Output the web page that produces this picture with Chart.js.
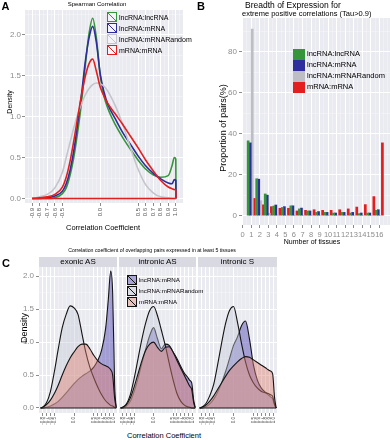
<!DOCTYPE html>
<html>
<head>
<meta charset="utf-8">
<script src="https://cdn.jsdelivr.net/npm/chart.js@4.4.0/dist/chart.umd.min.js"></script>
<style>
  body { margin: 0; background: #fff; font-family: "Liberation Sans", Arial, sans-serif; }
  #page { position: relative; width: 390px; height: 440px; overflow: hidden; background: #fff; }
  canvas { position: absolute; }
  .t { position: absolute; white-space: nowrap; color: #000; line-height: 1; }
  .key { position: absolute; box-sizing: border-box; }
  .strip { position: absolute; background: #D9D9E1; }
</style>
</head>
<body>
<div id="page">
  <canvas id="chartA" width="195" height="245" style="left:0;top:0"></canvas>
  <canvas id="chartB" width="195" height="245" style="left:195px;top:0"></canvas>
  <div class="strip" style="left:39px;top:257px;width:78px;height:10px"></div>
  <div class="strip" style="left:119px;top:257px;width:77px;height:10px"></div>
  <div class="strip" style="left:198px;top:257px;width:79px;height:10px"></div>
  <canvas id="chartC1" width="117" height="163" style="left:0;top:267px"></canvas>
  <canvas id="chartC2" width="77" height="163" style="left:119px;top:267px"></canvas>
  <canvas id="chartC3" width="79" height="163" style="left:198px;top:267px"></canvas>
</div>
<script>
// ---- A: spearman correlation densities ----
const corrX = [-0.9, -0.8, -0.7, -0.6, -0.5, -0.45, -0.4, -0.35, -0.3, -0.25, -0.2, -0.15, -0.1, -0.05,
  0, 0.05, 0.1, 0.2, 0.3, 0.4, 0.5, 0.6, 0.7, 0.8, 0.9, 0.95, 0.98, 1.0];
const densLncLnc = [0, 0, 0, 0.01, 0.06, 0.13, 0.28, 0.5, 0.8, 1.15, 1.6, 2.0, 2.2, 1.95,
  1.5, 1.25, 1.1, 0.9, 0.74, 0.6, 0.47, 0.36, 0.29, 0.26, 0.28, 0.4, 0.5, 0.48];
const densLncMrna = [0, 0, 0.01, 0.03, 0.09, 0.18, 0.34, 0.58, 0.9, 1.25, 1.65, 1.95, 2.1, 1.9,
  1.52, 1.3, 1.15, 0.97, 0.8, 0.66, 0.52, 0.4, 0.31, 0.24, 0.19, 0.18, 0.23, 0.22];
const densLncRandom = [0, 0.02, 0.05, 0.13, 0.32, 0.5, 0.68, 0.86, 1.02, 1.15, 1.26, 1.34, 1.39, 1.41,
  1.4, 1.37, 1.31, 1.13, 0.9, 0.62, 0.36, 0.17, 0.07, 0.02, 0.01, 0, 0, 0];
const densMrnaMrna = [0, 0.01, 0.02, 0.05, 0.14, 0.26, 0.45, 0.7, 0.98, 1.25, 1.48, 1.64, 1.7, 1.55,
  1.36, 1.25, 1.16, 1.03, 0.9, 0.76, 0.62, 0.47, 0.34, 0.22, 0.14, 0.12, 0.11, 0.1];
const corrTickLabels = [-0.9, -0.8, -0.7, -0.6, -0.5, 0, 0.5, 0.6, 0.7, 0.8, 0.9, 1.0];
const densTickLabels = [0, 0.5, 1.0, 1.5, 2.0];

// ---- B: breadth of expression ----
const tissues = [1, 2, 3, 4, 5, 6, 7, 8, 9, 10, 11, 12, 13, 14, 15, 16];
const pctLncLnc = [36.5, 18, 10.6, 4.7, 4.0, 4.8, 3.3, 2.3, 1.6, 1.6, 1.3, 1.6, 1.3, 1.0, 1.3, 2.6];
const pctLncMrna = [35.5, 17.8, 10.0, 5.2, 4.4, 4.8, 3.7, 2.3, 2.0, 1.6, 1.3, 1.6, 1.6, 1.3, 1.3, 2.9];
const pctLncRandom = [91, 7.3, 1.2, 0.4, 0.2, 0.1, 0.1, 0, 0, 0, 0, 0, 0, 0, 0, 0];
const pctMrnaMrna = [8.4, 5.3, 4.4, 3.6, 3.6, 2.3, 2.6, 2.9, 2.6, 2.6, 2.9, 3.3, 4.2, 5.4, 9.3, 35.5];
const tissueTickLabels = [0, 1, 2, 3, 4, 5, 6, 7, 8, 9, 10, 11, 12, 13, 14, 15, 16];
const pctTickLabels = [0, 20, 40, 60, 80];

// ---- C: overlapping pairs, three facets ----
const facetX = [-0.85, -0.8, -0.7, -0.6, -0.5, -0.4, -0.3, -0.2, -0.1, 0, 0.1, 0.2, 0.3, 0.4,
  0.5, 0.6, 0.7, 0.8, 0.87, 0.93, 0.98, 1.03, 1.07];
const exonicMrna = [0, 0, 0.01, 0.03, 0.06, 0.1, 0.16, 0.23, 0.3, 0.37, 0.43, 0.48, 0.52, 0.56,
  0.62, 0.72, 0.88, 1.2, 1.65, 2.08, 1.75, 0.35, 0];
const exonicRandom = [0, 0.01, 0.08, 0.25, 0.55, 0.9, 1.22, 1.42, 1.55, 1.52, 1.42, 1.13, 0.84, 0.62,
  0.46, 0.32, 0.2, 0.11, 0.07, 0.04, 0.03, 0.01, 0];
const exonicMm = [0, 0.01, 0.05, 0.12, 0.22, 0.35, 0.5, 0.64, 0.76, 0.85, 0.93, 0.97, 0.97, 0.9,
  0.8, 0.72, 0.67, 0.64, 0.62, 0.58, 0.5, 0.15, 0.01];
const intronAsMrna = [0, 0, 0.03, 0.1, 0.25, 0.45, 0.68, 0.9, 1.1, 1.22, 1.05, 0.9, 0.97, 0.95,
  0.85, 0.75, 0.63, 0.52, 0.47, 0.42, 0.38, 0.12, 0.01];
const intronAsRandom = [0, 0.01, 0.06, 0.2, 0.45, 0.75, 1.05, 1.3, 1.48, 1.54, 1.4, 1.18, 0.95, 0.68,
  0.43, 0.22, 0.1, 0.04, 0.02, 0.01, 0, 0, 0];
const intronAsMm = [0, 0.01, 0.05, 0.15, 0.32, 0.52, 0.72, 0.88, 0.97, 1.0, 0.92, 0.86, 0.92, 0.93,
  0.85, 0.72, 0.6, 0.48, 0.4, 0.33, 0.28, 0.08, 0];
const intronSMrna = [0, 0, 0.02, 0.06, 0.13, 0.24, 0.38, 0.55, 0.75, 0.95, 1.08, 1.25, 1.32, 1.05,
  0.65, 0.42, 0.3, 0.24, 0.2, 0.17, 0.14, 0.04, 0];
const intronSRandom = [0, 0.01, 0.06, 0.18, 0.35, 0.65, 0.98, 1.28, 1.48, 1.54, 1.3, 0.98, 0.7, 0.5,
  0.38, 0.3, 0.25, 0.23, 0.22, 0.2, 0.18, 0.05, 0];
const intronSMm = [0, 0.01, 0.04, 0.1, 0.18, 0.28, 0.38, 0.48, 0.57, 0.64, 0.7, 0.75, 0.78, 0.77,
  0.73, 0.69, 0.65, 0.61, 0.58, 0.56, 0.52, 0.15, 0];
const facetTickLabels = [-0.8, -0.7, -0.6, -0.5, 0, 0.5, 0.6, 0.7, 0.8, 0.9, 1.0];

const FONT = '"Liberation Sans", Arial, sans-serif';
const panelBg = '#EAEAF1';
const colGreen = '#35953A', colBlue = '#2D2D9E', colGrey = '#C4C4CC', colRed = '#E31E1E';

Chart.register({
  id: 'panelBg',
  beforeDraw(chart) {
    const { ctx, chartArea: a } = chart;
    ctx.save();
    ctx.fillStyle = panelBg;
    ctx.fillRect(a.left, a.top, a.right - a.left, a.bottom - a.top);
    ctx.restore();
  }
});

function stepTicks(min, max, step) {
  const out = [];
  for (let v = Math.ceil(min / step - 1e-9) * step; v <= max + 1e-9; v += step) {
    out.push({ value: +v.toFixed(4) });
  }
  return out;
}
function isIn(v, list) {
  return list.some(t => Math.abs(t - v) < 1e-6);
}
function pts(xs, ys) {
  return xs.map((x, i) => ({ x: x, y: ys[i] }));
}

// one axis config; labelled ticks get the major grid line and a tick mark
function axis(o) {
  const horizontal = o.horizontal;
  return {
    type: 'linear',
    min: o.min,
    max: o.max,
    offset: false,
    afterBuildTicks: s => { s.ticks = stepTicks(o.min, o.max, o.step); },
    afterFit: s => {
      if (horizontal) { s.height = o.size; s.paddingLeft = 0; s.paddingRight = 0; }
      else { s.width = o.size; s.paddingTop = 0; s.paddingBottom = 0; }
    },
    grid: {
      offset: false,
      color: c => isIn(c.tick.value, o.labels) ? '#FFFFFF' : 'rgba(255,255,255,0.65)',
      lineWidth: c => isIn(c.tick.value, o.labels) ? 1 : 0.5,
      drawTicks: o.showTicks !== false,
      tickLength: 3,
      tickColor: c => isIn(c.tick.value, o.labels) ? '#8C8C8C' : 'rgba(0,0,0,0)'
    },
    border: { display: false },
    ticks: {
      display: o.showTicks !== false,
      autoSkip: false,
      minRotation: o.rotate || 0,
      maxRotation: o.rotate || 0,
      padding: o.pad || 1,
      color: o.color || '#8C8C8C',
      font: { family: FONT, size: o.font },
      callback: v => isIn(v, o.labels) ? o.fmt(v) : ''
    }
  };
}

const common = {
  responsive: false,
  animation: false,
  events: [],
  plugins: { legend: { display: false }, tooltip: { enabled: false } }
};

// ---------- chart A ----------
function densityLine(ys, color, order) {
  const data = pts(corrX, ys);
  data.push({ x: corrX[corrX.length - 1] + 0.002, y: 0 });
  return {
    data: data, borderColor: color, borderWidth: 1.6, pointRadius: 0,
    cubicInterpolationMode: 'monotone', fill: false, order: order
  };
}

new Chart(document.getElementById('chartA'), {
  type: 'line',
  data: {
    datasets: [
      densityLine(densLncLnc, colGreen, 4),
      densityLine(densLncMrna, colBlue, 3),
      densityLine(densLncRandom, colGrey, 2),
      densityLine(densMrnaMrna, colRed, 1),
      {
        data: [{ x: corrX[0], y: 0 }, { x: corrX[corrX.length - 1], y: 0 }],
        borderColor: colRed, borderWidth: 1.6, pointRadius: 0, order: 0
      }
    ]
  },
  options: Object.assign({}, common, {
    layout: { padding: { top: 10, right: 12, left: 0, bottom: 0 } },
    scales: {
      x: axis({ horizontal: true, min: -0.995, max: 1.095, step: 0.05, labels: corrTickLabels,
        fmt: v => v.toFixed(1), size: 42, rotate: 90, font: 6, color: '#555555', pad: 2 }),
      y: axis({ min: -0.055, max: 2.3, step: 0.25, labels: densTickLabels,
        fmt: v => v.toFixed(1), size: 25, font: 8, pad: 1 })
    }
  })
});

// ---------- chart B ----------
function bars(ys, color) {
  return { data: pts(tissues, ys), backgroundColor: color, borderWidth: 0, barThickness: 2.05 };
}

new Chart(document.getElementById('chartB'), {
  type: 'bar',
  data: {
    datasets: [
      bars(pctLncLnc, colGreen),
      bars(pctLncMrna, colBlue),
      bars(pctLncRandom, '#BDBDC5'),
      bars(pctMrnaMrna, colRed)
    ]
  },
  options: Object.assign({}, common, {
    layout: { padding: { top: 18, right: 0, left: 0, bottom: 0 } },
    scales: {
      x: axis({ horizontal: true, min: -0.08, max: 17.25, step: 0.5, labels: tissueTickLabels,
        fmt: v => String(v), size: 20, font: 7.5, pad: 2 }),
      y: axis({ min: -4.55, max: 96.4, step: 10, labels: pctTickLabels,
        fmt: v => String(v), size: 47, font: 8, pad: 2 })
    }
  })
});

// ---------- chart C facets ----------
function facet(id, mrna, random, mm, withY) {
  const style = { fill: 'origin', borderColor: '#141414', borderWidth: 1.1, pointRadius: 0,
    cubicInterpolationMode: 'monotone' };
  new Chart(document.getElementById(id), {
    type: 'line',
    data: {
      datasets: [
        Object.assign({ data: pts(facetX, mrna), backgroundColor: 'rgba(110,104,192,0.58)', order: 3 }, style),
        Object.assign({ data: pts(facetX, random), backgroundColor: 'rgba(198,202,214,0.42)', order: 2 }, style),
        Object.assign({ data: pts(facetX, mm), backgroundColor: 'rgba(222,128,112,0.44)', order: 1 }, style),
        { data: [{ x: facetX[0], y: 0 }, { x: facetX[facetX.length - 1], y: 0 }],
          borderColor: '#141414', borderWidth: 1.1, pointRadius: 0, order: 0 }
      ]
    },
    options: Object.assign({}, common, {
      layout: { padding: 0 },
      scales: {
        x: axis({ horizontal: true, min: -0.89, max: 1.09, step: 0.1, labels: facetTickLabels,
          fmt: v => v.toFixed(1), size: 17, rotate: 90, font: 4.5, color: '#444444', pad: 1 }),
        y: axis({ min: -0.076, max: 2.14, step: 0.25, labels: densTickLabels,
          fmt: v => v.toFixed(1), size: withY ? 39 : 0, font: 8, pad: 2, showTicks: withY })
      }
    })
  });
}
facet('chartC1', exonicMrna, exonicRandom, exonicMm, true);
facet('chartC2', intronAsMrna, intronAsRandom, intronAsMm, false);
facet('chartC3', intronSMrna, intronSRandom, intronSMm, false);

// ---------- text and legends ----------
const page = document.getElementById('page');
function addText(txt, x, y, size, opt) {
  opt = opt || {};
  const d = document.createElement('div');
  d.className = 't';
  d.textContent = txt;
  d.style.fontSize = size + 'px';
  if (opt.bold) d.style.fontWeight = 'bold';
  if (opt.color) d.style.color = opt.color;
  d.style.left = x + 'px';
  d.style.top = y + 'px';
  d.style.transform = 'translate(' + (opt.left ? '0' : '-50%') + ',-50%)' + (opt.rot ? ' rotate(-90deg)' : '');
  page.appendChild(d);
}
function addKey(x, y, w, h, fill, line, border) {
  const k = document.createElement('div');
  k.className = 'key';
  k.style.left = x + 'px';
  k.style.top = y + 'px';
  k.style.width = w + 'px';
  k.style.height = h + 'px';
  if (line) {
    k.style.border = '1.3px solid ' + border;
    k.style.background = 'linear-gradient(to top right, transparent calc(50% - 0.7px), ' + line +
      ' calc(50% - 0.7px), ' + line + ' calc(50% + 0.7px), transparent calc(50% + 0.7px)), ' + fill;
  } else {
    k.style.background = fill;
  }
  page.appendChild(k);
}

addText('A', 5.5, 5.5, 11, { bold: true });
addText('Spearman Correlation', 97, 4, 6);
addText('Density', 9, 102, 7, { rot: true });
addText('Correlation Coefficient', 103, 228, 7.5);
const legA = [['lncRNA:lncRNA', colGreen], ['lncRNA:mRNA', colBlue],
  ['lncRNA:mRNARandom', colGrey], ['mRNA:mRNA', colRed]];
legA.forEach((e, i) => {
  addKey(107, 12 + i * 11, 10, 10, '#F4F4F8', e[1], e[1]);
  addText(e[0], 119, 17 + i * 11, 7, { left: true });
});

addText('B', 201, 5.5, 11, { bold: true });
addText('Breadth of Expression for', 245, 4.5, 8.5, { left: true });
addText('extreme positive correlations (Tau>0.9)', 242, 14, 7.5, { left: true });
addText('Proportion of pairs(%)', 223, 128, 9, { rot: true });
addText('Number of tissues', 312, 240.5, 7);
const legB = [['lncRNA:lncRNA', colGreen], ['lncRNA:mRNA', colBlue],
  ['lncRNA:mRNARandom', '#BDBDC5'], ['mRNA:mRNA', colRed]];
legB.forEach((e, i) => {
  addKey(293, 48.5 + i * 11, 12, 11, e[1]);
  addText(e[0], 307, 54 + i * 11, 7.5, { left: true });
});

addText('C', 6, 263, 11, { bold: true });
addText('Correlation coefficient of overlapping pairs expressed in at least 5 tissues', 152, 251, 5.2);
addText('exonic AS', 78, 262, 8);
addText('intronic AS', 157.5, 262, 8);
addText('intronic S', 237.5, 262, 8);
addText('Density', 24, 328, 9, { rot: true });
addText('Correlation Coefficient', 164, 436, 7.5);
const legC = [['lncRNA:mRNA', '#A9A6D7'], ['lncRNA:mRNARandom', '#DCDEE6'], ['mRNA:mRNA', '#E8C4BC']];
legC.forEach((e, i) => {
  addKey(127, 275 + i * 11, 10, 10, e[1], '#141414', '#141414');
  addText(e[0], 139, 280 + i * 11, 6.2, { left: true });
});
</script>
</body>
</html>
